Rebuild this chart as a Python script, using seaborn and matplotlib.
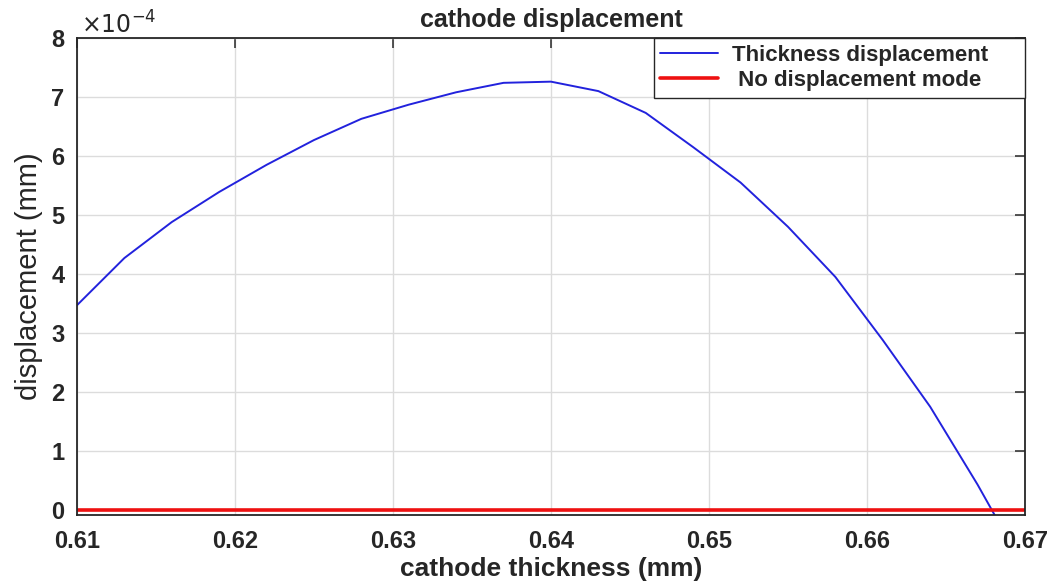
import numpy as np
import pandas as pd
import matplotlib
matplotlib.use("Agg")
import matplotlib.pyplot as plt
from matplotlib.ticker import FuncFormatter
from matplotlib.transforms import offset_copy
import seaborn as sns

# ---- data ----
thickness = [0.610, 0.613, 0.616, 0.619, 0.622, 0.625, 0.628, 0.631, 0.634, 0.637,
             0.640, 0.643, 0.646, 0.649, 0.652, 0.655, 0.658, 0.661, 0.664, 0.667, 0.670]
displacement_e4 = [3.47, 4.27, 4.88, 5.39, 5.85, 6.27, 6.63, 6.87, 7.08, 7.24,
                   7.26, 7.10, 6.73, 6.15, 5.55, 4.80, 3.95, 2.88, 1.75, 0.43, -1.00]
nodisp_x = [0.61, 0.67]
nodisp_y = [0.0, 0.0]
xticks = [0.61, 0.62, 0.63, 0.64, 0.65, 0.66, 0.67]
yticks = [0, 1, 2, 3, 4, 5, 6, 7, 8]
scale = 1e-4

sns.set_style("whitegrid")
plt.rcParams['font.family'] = ['Liberation Sans', 'DejaVu Sans']

fig = plt.figure(figsize=(10.57, 5.81), dpi=100)
ax = fig.add_axes([0.0728, 0.1136, 0.8969, 0.8210])

df = pd.DataFrame({"x": thickness, "y": np.array(displacement_e4) * scale})
sns.lineplot(data=df, x="x", y="y", ax=ax, color="#2222dd", lw=1.4,
             label="Thickness displacement     ", sort=False)
sns.lineplot(x=nodisp_x, y=np.array(nodisp_y) * scale, ax=ax, color="#ee1111", lw=2.6,
             label=" No displacement mode     ")

ax.set_xlim(0.61, 0.67)
ax.set_ylim(-0.085e-4, 8e-4)
ax.set_xticks(xticks)
ax.set_yticks([v * scale for v in yticks])
ax.xaxis.set_major_formatter(FuncFormatter(lambda v, p: f"{v:.2f}"))
ax.yaxis.set_major_formatter(FuncFormatter(lambda v, p: f"{v/scale:.0f}"))

for lab in ax.get_xticklabels() + ax.get_yticklabels():
    lab.set_fontweight("bold")
    lab.set_fontsize(17)
    lab.set_color("#262626")

ax.tick_params(axis="x", pad=11)
ax.tick_params(axis="y", pad=9)
ax.tick_params(axis="both", direction="in", length=7, width=1.1, color="#262626",
               top=True, right=True)
ax.grid(True, color="#dcdcdc", lw=1.0)
for s in ax.spines.values():
    s.set_visible(True)
    s.set_color("#262626")
    s.set_linewidth(1.3)

ax.set_title("cathode displacement", fontsize=18, fontweight="bold", pad=8)
ax.set_xlabel("cathode thickness (mm)", fontsize=19, fontweight="bold", labelpad=3)
ax.set_ylabel("displacement (mm)", fontsize=21, labelpad=6,
              family=["Liberation Sans Narrow", "Liberation Sans", "DejaVu Sans"])

tr = offset_copy(ax.transAxes, fig=fig, x=3, y=3, units="points")
ax.text(0.0, 1.0, r"$\times10^{-4}$", transform=tr, fontsize=17,
        ha="left", va="baseline", color="#262626")

leg = ax.legend(loc="upper right", borderaxespad=0.0, fancybox=False, frameon=True,
                prop={"weight": "bold", "size": 16}, handlelength=2.6,
                handletextpad=0.6, borderpad=0.3, labelspacing=0.2)
leg.get_frame().set_edgecolor("#262626")
leg.get_frame().set_linewidth(1.0)
leg.get_frame().set_alpha(1.0)

fig.savefig("out.png", dpi=100)
